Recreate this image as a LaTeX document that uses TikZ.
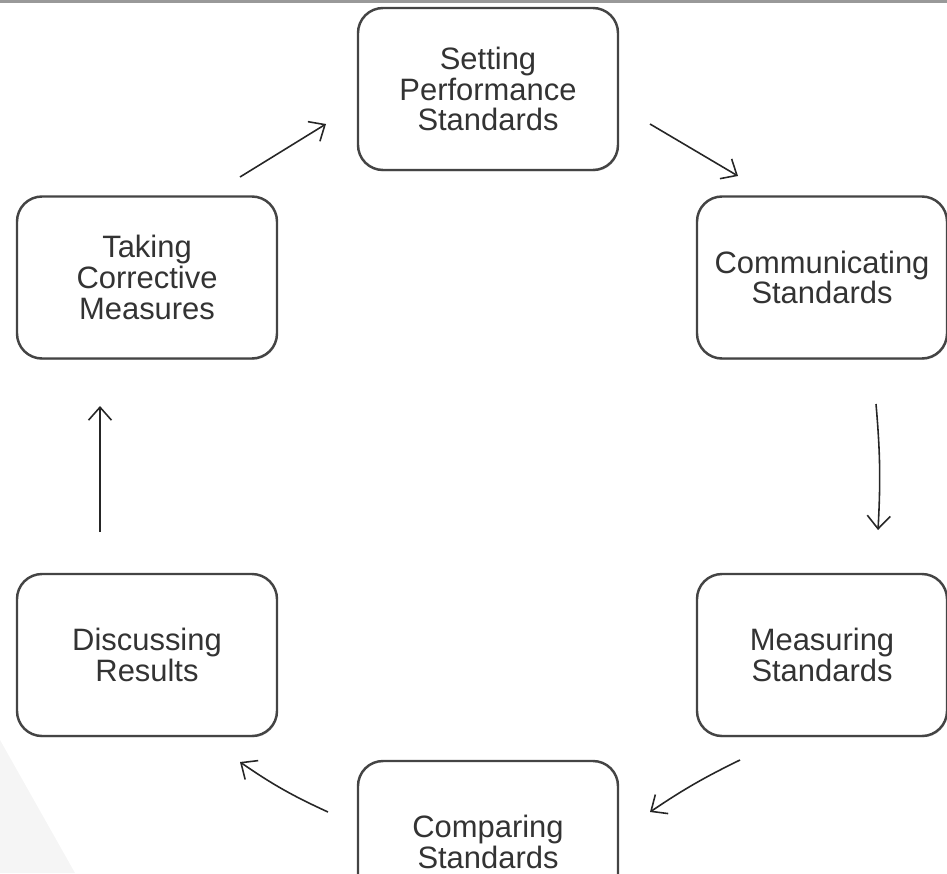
\documentclass[tikz,border=0pt]{standalone}
\usepackage{fontspec}
\setmainfont{Liberation Sans}
\usetikzlibrary{arrows.meta}
\usetikzlibrary{shadows}

\definecolor{boxline}{HTML}{444444}
\definecolor{boxtext}{HTML}{333333}

\begin{document}
\begin{tikzpicture}[thick,>={Straight Barb[length=2.6mm,width=4.6mm]},
    stage/.style={draw=boxline,line width=1.4pt,rounded corners=0.5cm,fill=white,
      minimum width=5.2cm,minimum height=3.24cm,align=center,text=boxtext,
      font=\fontsize{17.6}{17.4}\selectfont,
      drop shadow={shadow xshift=0.4pt,shadow yshift=-0.8pt,opacity=0.35}},
    flow/.style={->,line width=0.9pt,black!85}]
      \clip (0,0) rectangle (18.94,-17.46);
      % slide background
      \fill[black!4] (0,-14.8) -- (1.5,-17.46) -- (0,-17.46) -- cycle;
      \draw[black!40,line width=1.2pt] (0,-0.03) -- (18.94,-0.03);
      % stages
      \node[stage] (set) at (9.76,-1.78) {Setting\\Performance\\Standards};
      \node[stage,minimum width=5.0cm] (com) at (16.44,-5.55) {Communicating\\Standards};
      \node[stage,minimum width=5.0cm] (mea) at (16.44,-13.1) {Measuring\\Standards};
      \node[stage] (cmp) at (9.76,-16.84) {Comparing\\Standards};
      \node[stage] (dis) at (2.94,-13.1) {Discussing\\Results};
      \node[stage] (tak) at (2.94,-5.55) {Taking\\Corrective\\Measures};
      % arrow ends
      \coordinate (t1) at (4.8,-3.54);   \coordinate (s1) at (6.52,-2.48);
      \coordinate (s2) at (13.0,-2.48);  \coordinate (c1) at (14.76,-3.52);
      \coordinate (c2) at (17.52,-8.08); \coordinate (m1) at (17.56,-10.6);
      \coordinate (m2) at (14.8,-15.2);  \coordinate (p1) at (13.0,-16.24);
      \coordinate (p2) at (6.56,-16.24); \coordinate (d1) at (4.8,-15.24);
      \coordinate (d2) at (2.0,-10.64);  \coordinate (k1) at (2.0,-8.12);
      \draw[flow] (t1) -- (s1);
      \draw[flow] (s2) -- (c1);
      \draw[flow] (c2) to[bend left=4] (m1);
      \draw[flow] (m2) to[bend right=4] (p1);
      \draw[flow] (p2) to[bend left=5] (d1);
      \draw[flow] (d2) -- (k1);
    \end{tikzpicture}
\end{document}
